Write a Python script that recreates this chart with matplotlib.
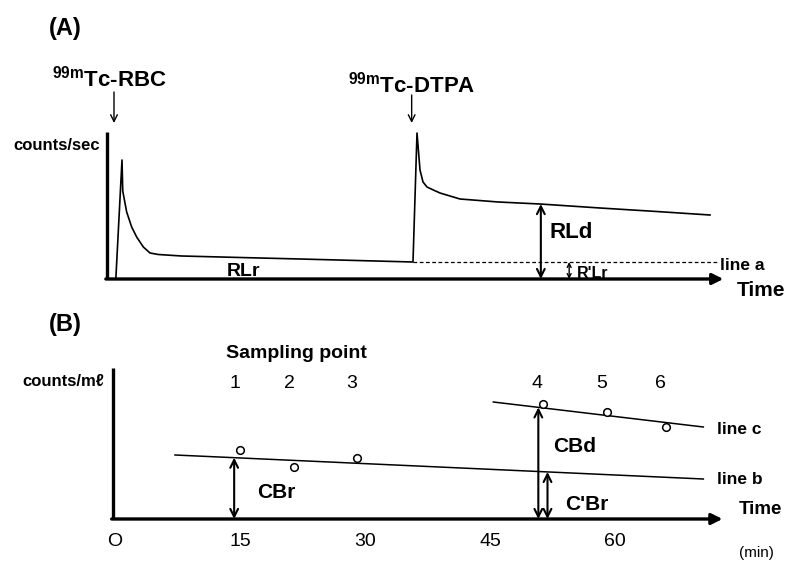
import numpy as np
import matplotlib
matplotlib.use('Agg')
import matplotlib.pyplot as plt

plt.rcParams['font.family'] = ['Liberation Sans', 'DejaVu Sans']

# ── Panel A: external counting curve (min, arbitrary counts/sec) ──
curve_t = [0.1, 0.84, 0.93, 1.4, 2.0, 2.6, 3.4, 4.2, 5.2, 8.0, 15.0, 22.2, 29.0, 35.76,
           36.24, 36.6, 36.96, 37.44, 38.2, 39.0, 40.2, 41.4, 46.0, 51.0, 58.2, 65.0, 71.4]
curve_c = [0, 119, 88, 67, 52, 42, 32, 26, 24.5, 23, 21.5, 20, 18.5, 17,
           146, 109, 97, 92, 89, 86, 83, 80, 77, 75, 71, 67.5, 64]
rbc_inject_t = 0.0
dtpa_inject_t = 35.6
line_a_level = 17
line_a_t = [35.76, 72.4]
rld_t = 51.1
r_lr_t = 54.5

# ── Panel B: blood samples (min, arbitrary counts/ml) ──
sample_no = ['1', '2', '3', '4', '5', '6']
sample_t = [15.0, 21.5, 29.0, 51.3, 59.0, 66.1]
sample_c = [69, 52, 61, 115, 107, 92]
line_b_t = [7.2, 70.6]
line_b_c = [64, 40]
line_c_t = [45.4, 70.6]
line_c_c = [117, 92]
cbr_t = 14.3
cbd_t = 50.8
c_br_t = 51.9
time_ticks = [0, 15, 30, 45, 60]
time_ticklabels = ['O', '15', '30', '45', '60']

XLIM = (-13.8, 80.52)

fig = plt.figure(figsize=(7.86, 5.61), dpi=100)
axA = fig.add_axes([0, 1 - 300 / 561, 1, 300 / 561])
axB = fig.add_axes([0, 0, 1, 261 / 561])
for ax in (axA, axB):
    ax.set_xlim(*XLIM)
    ax.axis('off')
axA.set_ylim(-21, 279)
axB.set_ylim(-42, 219)

bold = dict(fontweight='bold', color='black')
head = dict(arrowstyle='-|>', color='black', lw=2.4, mutation_scale=16,
            shrinkA=0, shrinkB=0)
dbl = dict(arrowstyle='<->', color='black', lw=1.5, mutation_scale=14,
           shrinkA=0, shrinkB=0)
thin = dict(arrowstyle='->', color='black', lw=1.0, mutation_scale=12,
            shrinkA=0, shrinkB=0)

# ════════ Panel A ════════
axA.plot([-0.96, -0.96], [0, 147], color='black', lw=2.4, solid_capstyle='butt')
axA.annotate('', xy=(73.0, 0), xytext=(-1.1, 0), arrowprops=head)
axA.plot(curve_t, curve_c, color='black', lw=1.2)
axA.plot(line_a_t, [line_a_level] * 2, color='black', lw=0.9, ls=(0, (3, 2)))

rld_top = np.interp(rld_t, curve_t[14:], curve_c[14:])
axA.annotate('', xy=(rld_t, rld_top), xytext=(rld_t, 0), arrowprops=dbl)
axA.annotate('', xy=(r_lr_t, line_a_level), xytext=(r_lr_t, 0),
             arrowprops=dict(arrowstyle='<->', color='black', lw=1.0,
                             mutation_scale=7, shrinkA=0, shrinkB=0))

axA.text(-6.0, 251, '(A)', fontsize=17, ha='center', va='center', **bold)
axA.text(-0.7, 200, r'$^{\mathregular{99m}}$Tc-RBC', fontsize=16, ha='center',
         va='center', **bold)
axA.annotate('', xy=(rbc_inject_t - 0.12, 156), xytext=(rbc_inject_t - 0.12, 187),
             arrowprops=thin)
axA.text(dtpa_inject_t, 194, r'$^{\mathregular{99m}}$Tc-DTPA', fontsize=16,
         ha='center', va='center', **bold)
axA.annotate('', xy=(dtpa_inject_t, 156), xytext=(dtpa_inject_t, 184),
             arrowprops=thin)
axA.text(-6.96, 134, 'counts/sec', fontsize=12, ha='center', va='center', **bold)
axA.text(15.4, 7, 'RLr', fontsize=14, ha='center', va='center', **bold)
axA.text(rld_t + 1.0, 46, 'RLd', fontsize=16, ha='left', va='center', **bold)
axA.text(r_lr_t + 0.9, 6, "R'Lr", fontsize=11.5, ha='left', va='center', **bold)
axA.text(72.6, 14, 'line a', fontsize=12.5, ha='left', va='center', **bold)
axA.text(74.6, -11, 'Time', fontsize=15, ha='left', va='center', **bold)

# ════════ Panel B ════════
axB.plot([-0.25, -0.25], [0, 151], color='black', lw=2.4, solid_capstyle='butt')
axB.annotate('', xy=(72.9, 0), xytext=(-0.4, 0), arrowprops=head)
axB.plot(line_b_t, line_b_c, color='black', lw=1.1)
axB.plot(line_c_t, line_c_c, color='black', lw=1.1)
axB.plot(sample_t, sample_c, 'o', ms=5.5, mfc='white', mec='black', mew=1.1)

for t, lbl in zip(time_ticks, time_ticklabels):
    axB.text(t, -22, lbl, fontsize=14, ha='center', va='center')
for t, n in zip(sample_t, sample_no):
    axB.text(t - 0.6, 136, n, fontsize=14, ha='center', va='center')

cbr_top = np.interp(cbr_t, line_b_t, line_b_c)
cbd_top = np.interp(cbd_t, line_c_t, line_c_c)
c_br_top = np.interp(c_br_t, line_b_t, line_b_c)
axB.annotate('', xy=(cbr_t, cbr_top), xytext=(cbr_t, 0), arrowprops=dbl)
axB.annotate('', xy=(cbd_t, cbd_top), xytext=(cbd_t, 0), arrowprops=dbl)
axB.annotate('', xy=(c_br_t, c_br_top), xytext=(c_br_t, 0), arrowprops=dbl)

axB.text(-6.0, 194, '(B)', fontsize=17, ha='center', va='center', **bold)
axB.text(21.8, 166, 'Sampling point', fontsize=14, ha='center', va='center', **bold)
axB.text(-6.2, 137, 'counts/mℓ', fontsize=12, ha='center', va='center', **bold)
axB.text(19.4, 27, 'CBr', fontsize=15, ha='center', va='center', **bold)
axB.text(55.2, 73, 'CBd', fontsize=15, ha='center', va='center', **bold)
axB.text(56.6, 14, "C'Br", fontsize=15, ha='center', va='center', **bold)
axB.text(72.2, 89, 'line c', fontsize=12.5, ha='left', va='center', **bold)
axB.text(72.2, 40, 'line b', fontsize=12.5, ha='left', va='center', **bold)
axB.text(74.9, 9, 'Time', fontsize=13.5, ha='left', va='center', **bold)
axB.text(77.0, -34, '(min)', fontsize=11, ha='center', va='center')

fig.savefig('out.png', dpi=100)
